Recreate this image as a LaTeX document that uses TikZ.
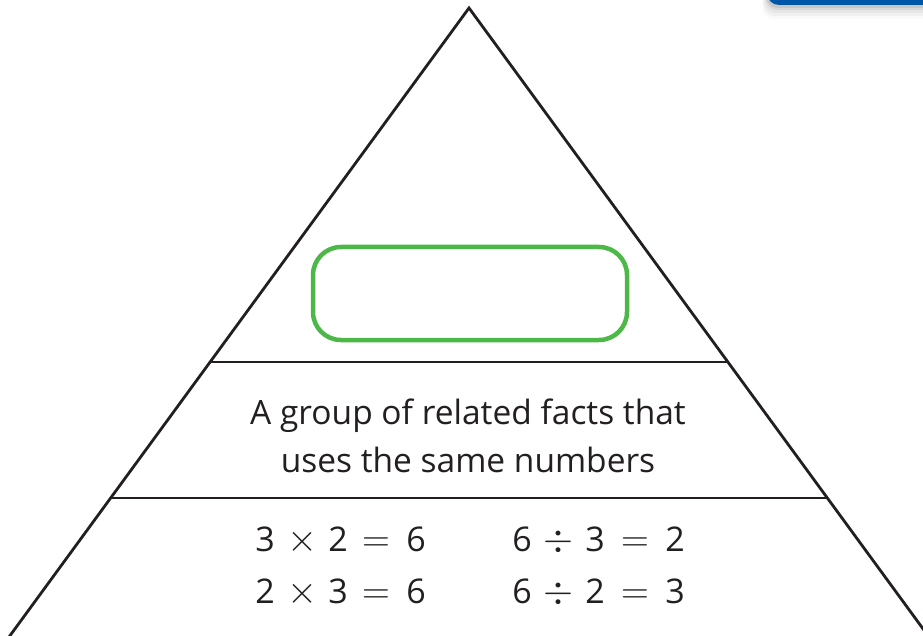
\documentclass[tikz,border=0pt]{standalone}
\usepackage{graphicx}
\usepackage{fontspec}
\setmainfont{Open Sans}
\usetikzlibrary{calc}
\definecolor{inkblack}{HTML}{231F20}
\definecolor{boxgreen}{HTML}{4CB848}
\definecolor{tabblue}{HTML}{0057A8}
\newcommand{\bigop}[1]{\scalebox{1.55}{$#1$}}
\tikzset{
  edge/.style={draw=inkblack, line width=2.8pt, line join=miter},
  divider/.style={draw=inkblack, line width=2.4pt},
  greenbox/.style={draw=boxgreen, line width=4.5pt, rounded corners=28pt},
  body/.style={font=\fontsize{33.5}{48}\selectfont, text=inkblack, align=center, inner sep=0pt},
  glyph/.style={font=\fontsize{34}{40}\selectfont, text=inkblack, anchor=base, inner sep=0pt},
}
\begin{document}
\begin{tikzpicture}[x=1pt,y=-1pt]
\useasboundingbox (0,0) rectangle (923,636);
% top-right tab with shadow
\foreach \k/\o in {14/0.025,11/0.035,8/0.045,5/0.06,3/0.08} {
  \fill[black, opacity=\o, rounded corners=12pt] (767-\k/3,-20) rectangle (940,5+\k);
}
\fill[tabblue, rounded corners=12pt] (767,-20) rectangle (940,5);
% triangle
\coordinate (apex) at (469,8);
\coordinate (bl) at (9,637);
\coordinate (br) at (929,637);
\draw[edge] (bl) -- (apex) -- (br);
% dividers
\coordinate (d1l) at ($(apex)!354/629!(bl)$);
\coordinate (d1r) at ($(apex)!354/629!(br)$);
\coordinate (d2l) at ($(apex)!490/629!(bl)$);
\coordinate (d2r) at ($(apex)!490/629!(br)$);
\draw[divider] (d1l) -- (d1r);
\draw[divider] (d2l) -- (d2r);
% green box
\draw[greenbox] (313,247) rectangle (627,340);
% text
\node[body] (def) at (468,436) {A group of related facts that\\uses the same numbers};
% equations
\node[glyph] (a1) at (265,551) {3};
\node[glyph] (a2) at (302,551) {\bigop{\times}};
\node[glyph] (a3) at (338,551) {2};
\node[glyph] (a4) at (376,551) {\bigop{=}};
\node[glyph] (a5) at (416,551) {6};
\node[glyph] (b1) at (522,551) {6};
\node[glyph] (b2) at (558,551) {\bigop{\div}};
\node[glyph] (b3) at (595,551) {3};
\node[glyph] (b4) at (635,551) {\bigop{=}};
\node[glyph] (b5) at (675,551) {2};
\node[glyph] (c1) at (265,603) {2};
\node[glyph] (c2) at (302,603) {\bigop{\times}};
\node[glyph] (c3) at (338,603) {3};
\node[glyph] (c4) at (376,603) {\bigop{=}};
\node[glyph] (c5) at (416,603) {6};
\node[glyph] (e1) at (522,603) {6};
\node[glyph] (e2) at (558,603) {\bigop{\div}};
\node[glyph] (e3) at (595,603) {2};
\node[glyph] (e4) at (635,603) {\bigop{=}};
\node[glyph] (e5) at (675,603) {3};
\end{tikzpicture}
\end{document}
